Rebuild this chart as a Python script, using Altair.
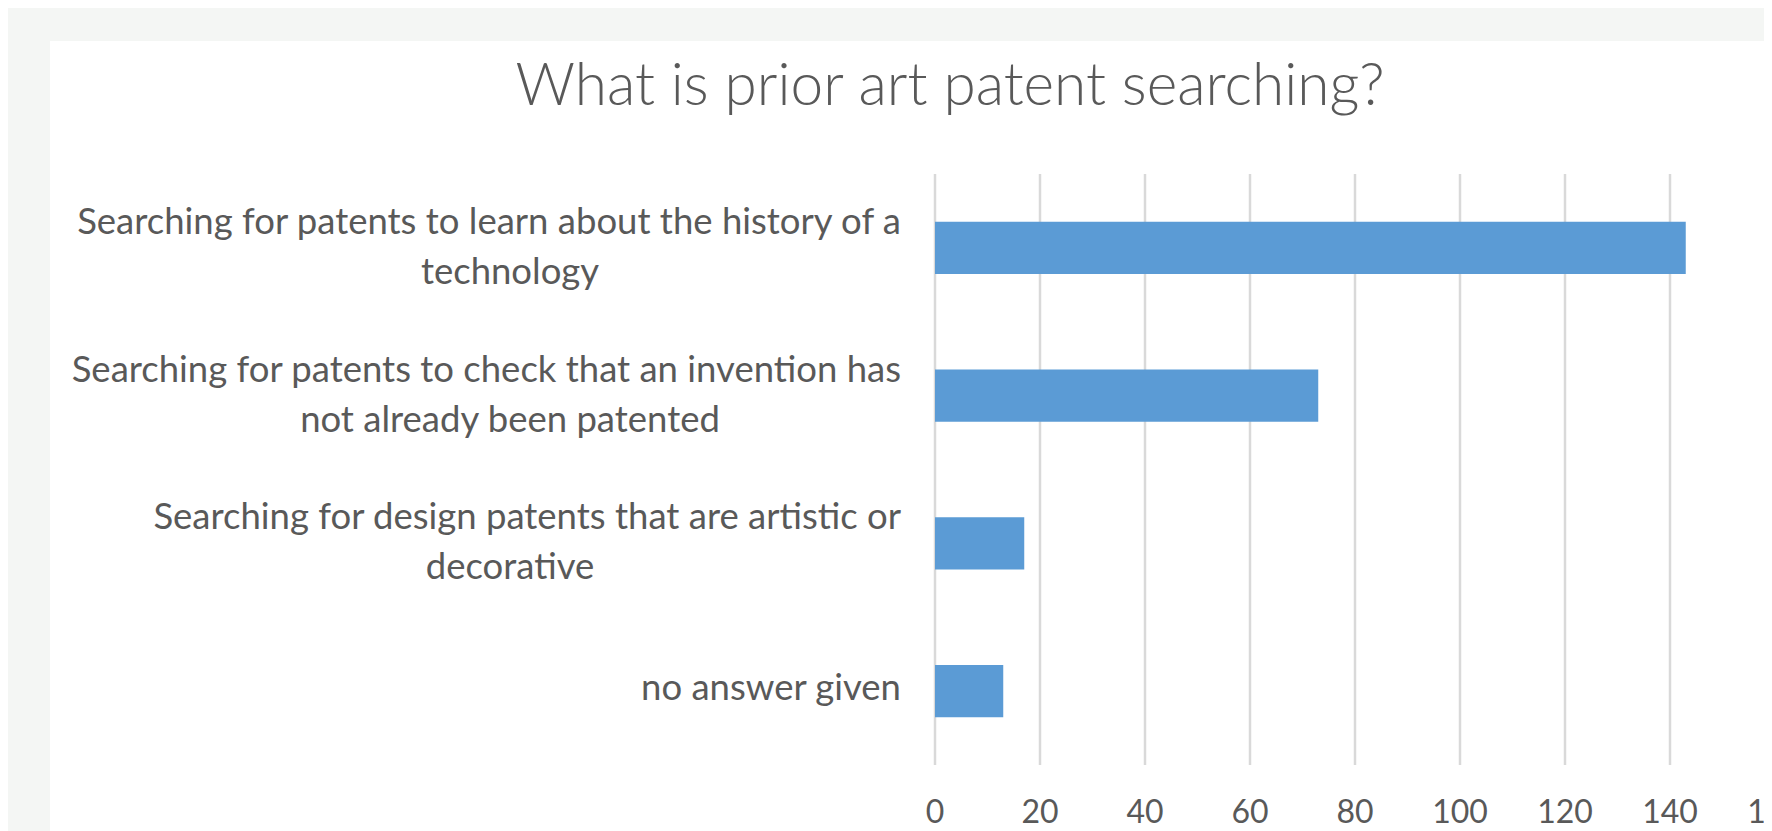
import altair as alt
import pandas as pd

title_text = "What is prior art patent searching?"
categories = [
    "Searching for patents to learn about the history of a technology",
    "Searching for patents to check that an invention has not already been patented",
    "Searching for design patents that are artistic or decorative",
    "no answer given",
]
line1 = [
    "Searching for patents to learn about the history of a",
    "Searching for patents to check that an invention has",
    "Searching for design patents that are artistic or",
    "no answer given",
]
line2 = ["technology", "not already been patented", "decorative", ""]
values = [143, 73, 17, 13]
x_ticks = [0, 20, 40, 60, 80, 100, 120, 140, 160]

df = pd.DataFrame({"cat": categories, "value": values, "line1": line1, "line2": line2})
grid_df = pd.DataFrame({"tick": x_ticks})
title_df = pd.DataFrame({"t": [title_text]})
panel_df = pd.DataFrame({"p": [0]})

W, H = 829, 591
TEXT = "#595959"
FONT = "Lato"
FS = 36.5

xscale = alt.Scale(domain=[0, 160], range=[0, 840], nice=False, zero=True)
yscale = alt.Scale(paddingInner=0.648, paddingOuter=0.324)
y_enc = alt.Y("cat:N", sort=categories, scale=yscale, axis=None)

panel = alt.Chart(panel_df).mark_rect(color="white").encode(
    x=alt.value(-885), x2=alt.value(W + 20), y=alt.value(-133), y2=alt.value(H + 120)
)

grid = alt.Chart(grid_df).mark_rule(color="#D9D9D9", strokeWidth=2.5).encode(
    x=alt.X("tick:Q", scale=xscale, axis=None),
    y=alt.value(0),
    y2=alt.value(H),
)

bars = alt.Chart(df).mark_bar(color="#5B9BD5").encode(
    x=alt.X("value:Q", scale=xscale, axis=None),
    y=y_enc,
)

xlabels = alt.Chart(grid_df).mark_text(
    align="center", baseline="top", font=FONT, fontSize=32, color=TEXT
).encode(
    x=alt.X("tick:Q", scale=xscale, axis=None),
    y=alt.value(H + 33),
    text=alt.Text("tick:Q"),
)

txt = dict(font=FONT, fontSize=FS, color=TEXT, baseline="alphabetic")

line1_two = alt.Chart(df).transform_filter("datum.line2 != ''").mark_text(
    align="right", dy=-14, **txt
).encode(x=alt.value(-34), y=y_enc, text="line1:N")

line1_one = alt.Chart(df).transform_filter("datum.line2 == ''").mark_text(
    align="right", dy=9, **txt
).encode(x=alt.value(-34), y=y_enc, text="line1:N")

line2_t = alt.Chart(df).transform_filter("datum.line2 != ''").mark_text(
    align="center", dy=36, **txt
).encode(x=alt.value(-425), y=y_enc, text="line2:N")

title = alt.Chart(title_df).mark_text(
    align="center", baseline="alphabetic", font=FONT, fontSize=58.5, fontWeight=300, color=TEXT
).encode(x=alt.value(15), y=alt.value(-69), text="t:N")

chart = alt.layer(panel, grid, bars, xlabels, line1_two, line1_one, line2_t, title).properties(
    width=W,
    height=H,
    autosize=alt.AutoSizeParams(type="none"),
    padding={"left": 927, "top": 166, "right": 0, "bottom": 66},
).configure(background="#F4F6F4").configure_view(stroke=None)

chart.save("out.html", embed_options={"renderer": "svg", "actions": False})
